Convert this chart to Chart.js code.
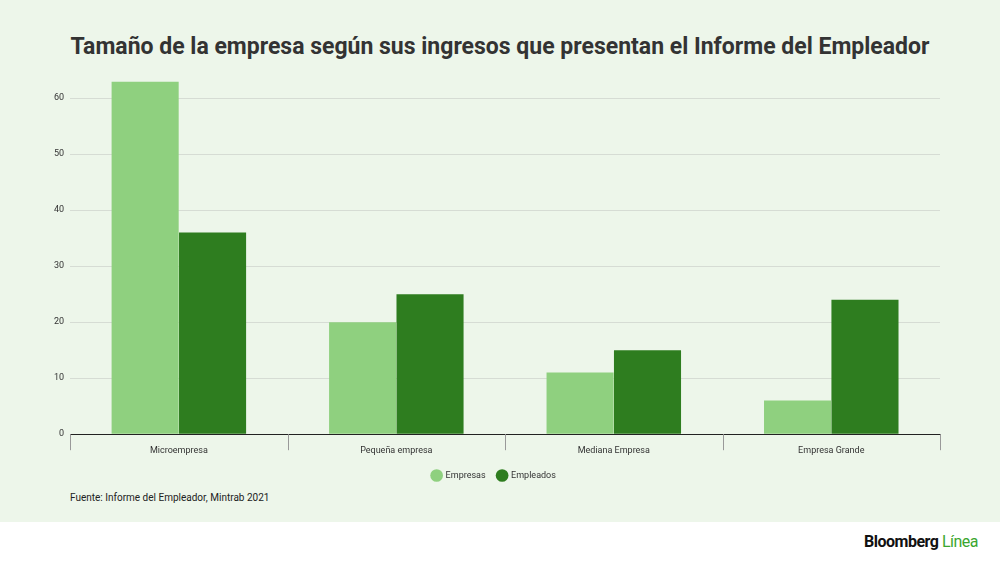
<!DOCTYPE html>
<html><head><meta charset="utf-8">
<script src="https://cdn.jsdelivr.net/npm/chart.js@4"></script>
<style>
body{margin:0;width:1000px;height:562px;background:#fff;font-family:Roboto,sans-serif;overflow:hidden}
#panel{position:absolute;left:0;top:0;width:1000px;height:522px;background:#edf6ea}
#title{position:absolute;top:33px;width:1000px;text-align:center;font-size:23px;font-weight:bold;color:#333}
#wrap{position:absolute;left:0;top:70px;width:1000px;height:420px}
#src{position:absolute;left:70px;top:492px;font-size:10px;color:#222}
#logo{position:absolute;right:22px;top:532px;font-size:16px;font-weight:bold;letter-spacing:-0.5px;color:#111}
#logo span{color:#3aa62f;font-weight:normal}
</style></head><body>
<div id="panel"></div>
<div id="title">Tamaño de la empresa según sus ingresos que presentan el Informe del Empleador</div>
<div id="wrap"><canvas id="c"></canvas></div>
<div id="src">Fuente: Informe del Empleador, Mintrab 2021</div>
<div id="logo">Bloomberg <span>Línea</span></div>
<script>
var categorias = ['Microempresa', 'Pequeña empresa', 'Mediana Empresa', 'Empresa Grande'];
var empresas = [63, 20, 11, 6];
var empleados = [36, 25, 15, 24];
var ejeMax = 63;

// marcas largas entre categorias, por debajo del eje
var marcasEje = {
  id: 'marcasEje',
  afterDraw: function (chart) {
    var x = chart.scales.x, ctx = chart.ctx;
    var paso = x.getPixelForValue(1) - x.getPixelForValue(0);
    ctx.save();
    ctx.strokeStyle = '#999';
    ctx.lineWidth = 1;
    for (var i = 0; i <= categorias.length; i++) {
      var px = Math.round(x.getPixelForValue(0) - paso / 2 + i * paso) + 0.5;
      ctx.beginPath();
      ctx.moveTo(px, x.top);
      ctx.lineTo(px, x.top + 16);
      ctx.stroke();
    }
    ctx.restore();
  }
};

new Chart(document.getElementById('c'), {
  type: 'bar',
  data: {
    labels: categorias,
    datasets: [
      { label: 'Empresas', data: empresas, backgroundColor: '#8fd07f', borderWidth: 0 },
      { label: 'Empleados', data: empleados, backgroundColor: '#2e7d1f', borderWidth: 0 }
    ]
  },
  options: {
    responsive: true,
    maintainAspectRatio: false,
    animation: false,
    layout: { padding: { left: 48, right: 60, top: 11 } },
    categoryPercentage: 0.62,
    barPercentage: 0.995,
    scales: {
      x: {
        offset: true,
        grid: { display: false },
        border: { color: '#222', width: 1 },
        ticks: { autoSkip: false, maxRotation: 0, color: '#333', font: { size: 9, family: 'Roboto' }, padding: 3 }
      },
      y: {
        min: 0, max: ejeMax,
        ticks: {
          stepSize: 10, color: '#333', font: { size: 9, family: 'Roboto' }, padding: 6,
          callback: function (v) { return v % 10 === 0 ? v : ''; }
        },
        grid: { color: function (c) { return c.tick.value % 10 === 0 ? '#d6dcd4' : 'rgba(0,0,0,0)'; }, drawTicks: false },
        border: { display: false }
      }
    },
    plugins: {
      legend: {
        position: 'bottom',
        labels: { usePointStyle: true, pointStyle: 'circle', boxWidth: 10, boxHeight: 10, color: '#333', font: { size: 9, family: 'Roboto' }, padding: 12 }
      },
      tooltip: { enabled: false }
    }
  },
  plugins: [marcasEje]
});
</script>
</body></html>
